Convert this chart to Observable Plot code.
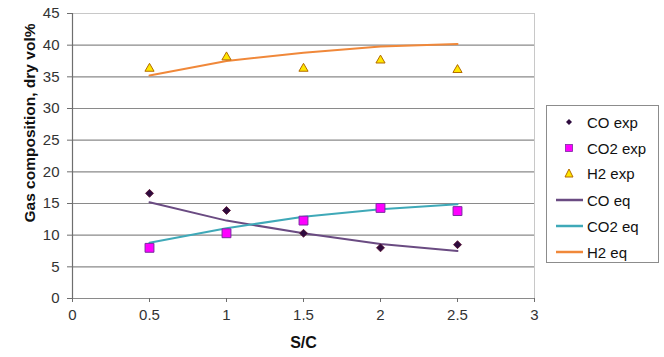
<!DOCTYPE html>
<html>
<head>
<meta charset="utf-8">
<script src="https://cdn.jsdelivr.net/npm/d3@7"></script>
<script src="https://cdn.jsdelivr.net/npm/@observablehq/plot@0.6"></script>
<style>
  body { margin: 0; background: #fff; font-family: "Liberation Sans", Arial, sans-serif; }
  #wrap { position: relative; width: 664px; height: 357px; }
  #legend { position: absolute; left: 546px; top: 105px; width: 113px; height: 158px; border: 1px solid #8c8c8c; background: #fff; box-sizing: border-box; }
  .item { position: absolute; left: 0; height: 20px; display: flex; align-items: center; font-size: 15px; color: #111; }
  .item svg { width: 40px; height: 20px; }
</style>
</head>
<body>
<div id="wrap"><div id="legend"></div></div>
<script>
const sc = [0.5, 1, 1.5, 2, 2.5];
const coExp  = [16.6, 13.9, 10.3, 8.0, 8.5];
const co2Exp = [8.0, 10.3, 12.3, 14.3, 13.8];
const h2Exp  = [36.3, 38.1, 36.3, 37.6, 36.1];
const coEq   = [15.2, 12.3, 10.3, 8.6, 7.5];
const co2Eq  = [8.8, 11.1, 12.9, 14.1, 14.9];
const h2Eq   = [35.2, 37.5, 38.8, 39.8, 40.2];
const yTicks = [0, 5, 10, 15, 20, 25, 30, 35, 40, 45];
const xTicks = [0, 0.5, 1, 1.5, 2, 2.5, 3];
const seriesNames = ["CO exp", "CO2 exp", "H2 exp", "CO eq", "CO2 eq", "H2 eq"];

const toRows = (ys) => sc.map((x, i) => ({x, y: ys[i]}));

const colors = {
  co: "#2e0b3e", coLine: "#6a4b82",
  co2: "#ff00ff", co2Stroke: "#7a2aa0", co2Line: "#3fa9b8",
  h2: "#ffe600", h2Stroke: "#b36b00", h2Line: "#f0883a"
};

const chart = Plot.plot({
  width: 664,
  height: 357,
  marginLeft: 72,
  marginRight: 130,
  marginTop: 13,
  marginBottom: 59,
  style: {fontFamily: "Liberation Sans, Arial, sans-serif", fontSize: "15px", color: "#333", overflow: "visible"},
  x: {domain: [0, 3]},
  y: {domain: [0, 45]},
  marks: [
    Plot.ruleY(yTicks.slice(1, -1), {stroke: "#8a8a8a", strokeWidth: 1.2}),
    Plot.ruleY([45], {stroke: "#c8c8c8"}),
    Plot.ruleX([3], {stroke: "#c8c8c8"}),
    Plot.ruleY([0], {stroke: "#8a8a8a", strokeWidth: 1.2}),
    Plot.ruleX([0], {stroke: "#6e6e6e", strokeWidth: 1.2}),
    Plot.axisY({ticks: yTicks, tickSize: 5, tickPadding: 8, stroke: "#6e6e6e", fill: "#333", label: null, fontSize: 15}),
    Plot.axisX({ticks: xTicks, tickSize: 4, tickPadding: 7, stroke: "#6e6e6e", fill: "#333", label: null, fontSize: 15, tickFormat: d => String(d)}),
    Plot.line(toRows(coEq), {x: "x", y: "y", stroke: colors.coLine, strokeWidth: 2}),
    Plot.line(toRows(co2Eq), {x: "x", y: "y", stroke: colors.co2Line, strokeWidth: 2}),
    Plot.line(toRows(h2Eq), {x: "x", y: "y", stroke: colors.h2Line, strokeWidth: 2}),
    Plot.dot(toRows(coExp), {x: "x", y: "y", symbol: "diamond2", r: 3.6, fill: colors.co, stroke: "#5a1030", strokeWidth: 0.8}),
    Plot.dot(toRows(co2Exp), {x: "x", y: "y", symbol: "square", r: 5, fill: colors.co2, stroke: colors.co2Stroke, strokeWidth: 1}),
    Plot.dot(toRows(h2Exp), {x: "x", y: "y", symbol: "triangle", r: 3.4, fill: colors.h2, stroke: colors.h2Stroke, strokeWidth: 1}),
    Plot.text(["Gas composition, dry vol%"], {frameAnchor: "left", textAnchor: "middle", rotate: -90, dx: -42, dy: -33, fontSize: 15.5, fontWeight: "bold", fill: "#111"}),
    Plot.text(["S/C"], {frameAnchor: "bottom", dy: 49, fontSize: 16, fontWeight: "bold", fill: "#111"})
  ]
});
document.getElementById("wrap").prepend(chart);

// legend
const legend = document.getElementById("legend");
const legendSymbols = [
  `<path d="M22,7 L25,10 L22,13 L19,10 Z" fill="${colors.co}"/>`,
  `<rect x="18.5" y="6.5" width="7" height="7" fill="${colors.co2}" stroke="${colors.co2Stroke}" stroke-width="0.8"/>`,
  `<path d="M22,6 L26,14 L18,14 Z" fill="${colors.h2}" stroke="${colors.h2Stroke}" stroke-width="1"/>`,
  `<line x1="9" x2="36" y1="10" y2="10" stroke="${colors.coLine}" stroke-width="2.5"/>`,
  `<line x1="9" x2="36" y1="10" y2="10" stroke="${colors.co2Line}" stroke-width="2.5"/>`,
  `<line x1="9" x2="36" y1="10" y2="10" stroke="${colors.h2Line}" stroke-width="2.5"/>`
];
const tops = [6, 32, 57, 84, 110, 136];
seriesNames.forEach((name, i) => {
  const d = document.createElement("div");
  d.className = "item";
  d.style.top = tops[i] + "px";
  d.innerHTML = `<svg>${legendSymbols[i]}</svg><span>${name}</span>`;
  legend.appendChild(d);
});
</script>
</body>
</html>
